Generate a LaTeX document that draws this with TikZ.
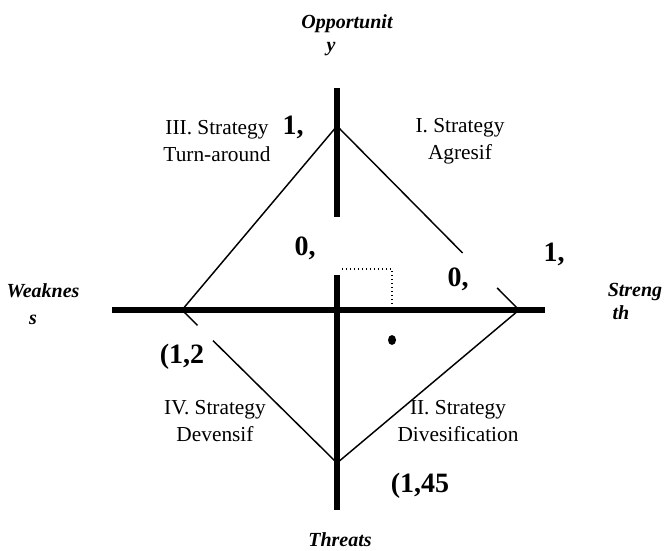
\documentclass[tikz,border=0pt]{standalone}
\usepackage{fontspec}
\setmainfont{Liberation Serif}
\usetikzlibrary{calc}
\begin{document}
\begin{tikzpicture}[x=0.75pt,y=-0.75pt,
  axe/.style={line width=3.8pt},
  diag/.style={line width=1.1pt},
  quad/.style={align=center,inner sep=0pt,font=\fontsize{16}{20}\selectfont},
  nom/.style={inner sep=0pt,font=\fontsize{15}{17}\selectfont\bfseries\itshape},
  val/.style={inner sep=0pt,font=\fontsize{21}{23}\selectfont\bfseries}]
  \useasboundingbox (0,0) rectangle (664,550);
  % sommets du losange
  \coordinate (top) at (337,126);
  \coordinate (left) at (182,310);
  \coordinate (right) at (519,310);
  \coordinate (bot) at (337,463);
  % axes
  \coordinate (ytop) at (337,88);
  \coordinate (ymid) at (337,217);
  \coordinate (ylow) at (337,275);
  \coordinate (ybot) at (337,510);
  \coordinate (xl) at (112,310);
  \coordinate (xr) at (545,310);
  \draw[axe] (xl) -- (xr);
  \draw[axe] (ytop) -- (ymid);
  \draw[axe] (ylow) -- (ybot);
  % losange, coupe aux etiquettes
  \draw[diag] (left) -- (top) -- ($(top)!0.69!(right)$);
  \draw[diag] ($(top)!0.88!(right)$) -- (right) -- (bot) -- ($(left)!0.2!(bot)$);
  \draw[diag] (left) -- ($(left)!0.1!(bot)$);
  % point et repere pointille
  \coordinate (pt) at (392,340);
  \coordinate (dq) at (342,269);
  \draw[dotted,line width=1pt] (dq) -| (392,310);
  \fill (pt) ellipse (4 and 5);
  % noms des axes
  \node[nom] (opp1) at (347,24) {Opportunit};
  \node[nom] (opp2) at (331,49) {y};
  \node[nom] (weak1) at (43,291) {Weaknes};
  \node[nom] (weak2) at (33,320) {s};
  \node[nom] (str1) at (635,292) {Streng};
  \node[nom] (str2) at (621,313) {th};
  \node[nom] (thr) at (340,540) {Threats};
  % valeurs
  \node[val] (v1) at (293,127) {1,};
  \node[val] (v2) at (305,248) {0,};
  \node[val] (v3) at (458,279) {0,};
  \node[val] (v4) at (554,254) {1,};
  \node[val] (v5) at (182,357) {(1,2};
  \node[val] (v6) at (420,486) {(1,45};
  % quadrants
  \node[quad] (q3) at (217,141) {III. Strategy\\Turn-around};
  \node[quad] (q1) at (460,141) {I. Strategy\\Agresif};
  \node[quad] (q4) at (215,421) {IV. Strategy\\Devensif};
  \node[quad] (q2) at (458,421) {II. Strategy\\Divesification};
\end{tikzpicture}
\end{document}
